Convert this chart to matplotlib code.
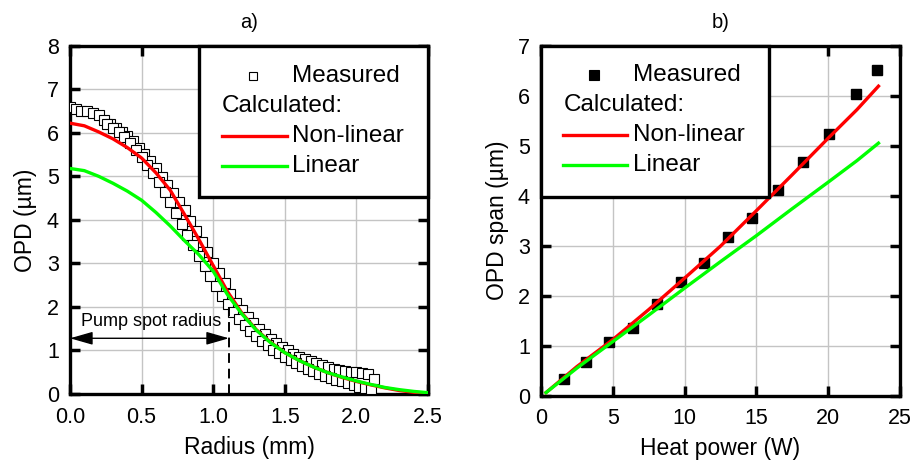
import matplotlib
matplotlib.use('Agg')
from matplotlib import pyplot as plt
from matplotlib.patches import Rectangle
from matplotlib.lines import Line2D

plt.rcParams['font.family'] = ['Liberation Sans', 'DejaVu Sans']
# inward ticks on all four sides
plt.rcParams.update({
    'xtick.direction': 'in', 'ytick.direction': 'in',
    'xtick.top': True, 'ytick.right': True,
    'xtick.major.size': 7.5, 'ytick.major.size': 7.5,
    'xtick.major.width': 2.5, 'ytick.major.width': 2.5,
    'xtick.major.pad': 9, 'ytick.major.pad': 8,
    'xtick.labelsize': 15.5, 'ytick.labelsize': 15.5,
    'axes.linewidth': 2.4,
})

#########################################
## DATA
#########################################

# a) OPD profile vs radius
radius_meas = [0.00, 0.04, 0.08, 0.12, 0.16, 0.20, 0.24, 0.28, 0.32, 0.36, 0.40, 0.44,
               0.48, 0.52, 0.56, 0.60, 0.64, 0.68, 0.72, 0.76, 0.80, 0.84, 0.88, 0.92,
               0.96, 1.00, 1.04, 1.08, 1.12, 1.16, 1.20, 1.24, 1.28, 1.32, 1.36, 1.40,
               1.44, 1.48, 1.52, 1.56, 1.60, 1.64, 1.68, 1.72, 1.76, 1.80, 1.84, 1.88,
               1.92, 1.96, 2.00, 2.04, 2.08, 2.12,
               0.26, 0.30, 0.34, 0.38, 0.42, 0.46, 0.50, 0.54, 0.58, 0.62, 0.66, 0.70,
               0.74, 0.78, 0.82, 0.86, 0.90, 0.94, 0.98, 1.02, 1.06, 1.10, 1.14, 1.18,
               1.22, 1.26, 1.30, 1.34, 1.38, 1.42, 1.46, 1.50, 1.54, 1.58, 1.62, 1.66,
               1.70, 1.74, 1.78, 1.82, 1.86, 1.90, 1.94, 1.98, 2.02, 2.06, 2.10]
opd_meas = [6.60, 6.55, 6.50, 6.50, 6.45, 6.40, 6.30, 6.20, 6.12, 6.02, 5.92, 5.80,
            5.66, 5.52, 5.36, 5.18, 4.98, 4.80, 4.62, 4.42, 4.22, 3.98, 3.74, 3.50,
            3.26, 3.02, 2.78, 2.54, 2.30, 2.10, 1.92, 1.76, 1.62, 1.50, 1.38, 1.27,
            1.17, 1.08, 1.00, 0.92, 0.86, 0.80, 0.76, 0.72, 0.67, 0.62, 0.58, 0.55,
            0.52, 0.50, 0.50, 0.48, 0.45, 0.35,
            6.20, 6.12, 6.02, 5.90, 5.76, 5.60, 5.44, 5.26, 5.07, 4.86, 4.64, 4.40,
            4.15, 3.90, 3.66, 3.42, 3.18, 2.94, 2.70, 2.48, 2.26, 2.06, 1.88, 1.72,
            1.58, 1.45, 1.33, 1.22, 1.12, 1.02, 0.94, 0.86, 0.78, 0.71, 0.64, 0.58,
            0.52, 0.47, 0.42, 0.37, 0.33, 0.29, 0.25, 0.21, 0.17, 0.14, 0.12]

radius_calc = [0.0, 0.1, 0.2, 0.3, 0.4, 0.5, 0.6, 0.7, 0.8, 0.9, 1.0, 1.1, 1.2,
               1.3, 1.4, 1.5, 1.6, 1.7, 1.8, 1.9, 2.0, 2.1, 2.2, 2.3, 2.4, 2.5]
opd_nonlinear = [6.22, 6.16, 6.02, 5.86, 5.66, 5.42, 5.08, 4.68, 4.12, 3.55, 2.95, 2.35, 1.86,
                 1.48, 1.19, 0.95, 0.77, 0.62, 0.49, 0.38, 0.29, 0.21, 0.14, 0.08, 0.04, 0.02]
opd_linear = [5.18, 5.13, 5.00, 4.84, 4.66, 4.45, 4.17, 3.86, 3.52, 3.20, 2.82, 2.28, 1.84,
              1.47, 1.18, 0.95, 0.77, 0.62, 0.49, 0.39, 0.30, 0.22, 0.15, 0.10, 0.06, 0.03]

pump_radius = 1.11

# b) OPD span vs heat power
power_meas = [1.6, 3.1, 4.74, 6.4, 8.06, 9.73, 11.37, 13.04, 14.71, 16.52, 18.26, 20.07, 21.94, 23.38]
span_meas = [0.33, 0.68, 1.08, 1.35, 1.83, 2.28, 2.65, 3.17, 3.55, 4.11, 4.68, 5.23, 6.03, 6.51]

power_calc = [0.35, 2.5, 5.0, 7.5, 10.0, 12.5, 15.0, 17.5, 20.0, 22.0, 23.5]
span_nonlinear = [0.06, 0.58, 1.12, 1.72, 2.35, 2.99, 3.70, 4.42, 5.15, 5.72, 6.19]
span_linear = [0.06, 0.55, 1.08, 1.61, 2.15, 2.68, 3.20, 3.74, 4.27, 4.70, 5.05]

#########################################
## STYLE
#########################################

RED = '#ff0000'
GREEN = '#00ff00'
LABEL_FS = 16.5
LEG_FS = 17.5


def legend_box(ax, x0, y0, w, h, marker_x, text_x, line_x0, line_x1, ys, filled):
    ax.add_patch(Rectangle((x0, y0), w, h, transform=ax.transAxes, facecolor='white',
                           edgecolor='black', linewidth=2.4, zorder=10, clip_on=False))
    ax.add_line(Line2D([marker_x], [ys[0]], transform=ax.transAxes, marker='s', ls='none',
                       markersize=7 if filled else 5.5,
                       markerfacecolor='black' if filled else 'white',
                       markeredgecolor='black', markeredgewidth=0.8, zorder=11))
    ax.text(text_x, ys[0], 'Measured', transform=ax.transAxes, fontsize=LEG_FS,
            va='center', ha='left', zorder=11)
    ax.text(line_x0, ys[1], 'Calculated:', transform=ax.transAxes, fontsize=LEG_FS,
            va='center', ha='left', zorder=11)
    ax.add_line(Line2D([line_x0, line_x1], [ys[2], ys[2]], transform=ax.transAxes,
                       color=RED, linewidth=2.4, zorder=11))
    ax.text(text_x, ys[2], 'Non-linear', transform=ax.transAxes, fontsize=LEG_FS,
            va='center', ha='left', zorder=11)
    ax.add_line(Line2D([line_x0, line_x1], [ys[3], ys[3]], transform=ax.transAxes,
                       color=GREEN, linewidth=2.4, zorder=11))
    ax.text(text_x, ys[3], 'Linear', transform=ax.transAxes, fontsize=LEG_FS,
            va='center', ha='left', zorder=11)


fig = plt.figure(figsize=(9.14, 4.61), dpi=100)

#########################################
## a)
#########################################
ax1 = fig.add_axes([0.0766, 0.1453, 0.3917, 0.7556])
ax1.grid(True, color='#c4c4c4', linewidth=1.0)
ax1.plot(radius_meas, opd_meas, 's', markersize=7, markerfacecolor='white',
         markeredgecolor='black', markeredgewidth=0.8, zorder=3)
ax1.plot(radius_calc, opd_nonlinear, color=RED, linewidth=2.4, zorder=4)
ax1.plot(radius_calc, opd_linear, color=GREEN, linewidth=2.4, zorder=5)

# pump spot radius marker
ax1.plot([pump_radius, pump_radius], [0, 2.0], color='black', linewidth=1.4,
         dashes=(5, 3), zorder=6)
ax1.annotate('', xy=(pump_radius, 1.28), xytext=(0, 1.28),
             arrowprops=dict(arrowstyle='<|-|>,head_length=1.4,head_width=0.4',
                             mutation_scale=10, color='black', lw=1.0,
                             shrinkA=0, shrinkB=0), zorder=6)
ax1.text(0.08, 1.66, 'Pump spot radius', fontsize=13, va='center', ha='left', zorder=6)

ax1.set_xlim(0, 2.5)
ax1.set_ylim(0, 8)
ax1.set_xticks([0.0, 0.5, 1.0, 1.5, 2.0, 2.5])
ax1.set_xticklabels(['0.0', '0.5', '1.0', '1.5', '2.0', '2.5'])
ax1.set_yticks(range(0, 9))
ax1.set_xlabel('Radius (mm)', fontsize=LABEL_FS, labelpad=6)
ax1.set_ylabel('OPD (\u00b5m)', fontsize=LABEL_FS, labelpad=7)
ax1.set_title('a)', fontsize=14.5, pad=13)

legend_box(ax1, 0.36, 0.566, 0.64, 0.434, 0.511, 0.62, 0.425, 0.606,
           [0.913, 0.827, 0.741, 0.655], filled=False)

#########################################
## b)
#########################################
ax2 = fig.add_axes([0.5919, 0.1419, 0.3928, 0.759])
ax2.grid(True, color='#c4c4c4', linewidth=1.0)
ax2.plot(power_meas, span_meas, 's', markersize=7.5, color='black', zorder=3)
ax2.plot(power_calc, span_nonlinear, color=RED, linewidth=2.4, zorder=4)
ax2.plot(power_calc, span_linear, color=GREEN, linewidth=2.4, zorder=5)

ax2.set_xlim(0, 25)
ax2.set_ylim(0, 7)
ax2.set_xticks(range(0, 26, 5))
ax2.set_yticks(range(0, 8))
ax2.set_xlabel('Heat power (W)', fontsize=LABEL_FS, labelpad=6)
ax2.set_ylabel('OPD span (\u00b5m)', fontsize=LABEL_FS, labelpad=6)
ax2.set_title('b)', fontsize=14.5, pad=13)

legend_box(ax2, 0.0, 0.568, 0.635, 0.432, 0.148, 0.257, 0.062, 0.24,
           [0.916, 0.83, 0.745, 0.659], filled=True)

fig.savefig('out.png', dpi=100)
